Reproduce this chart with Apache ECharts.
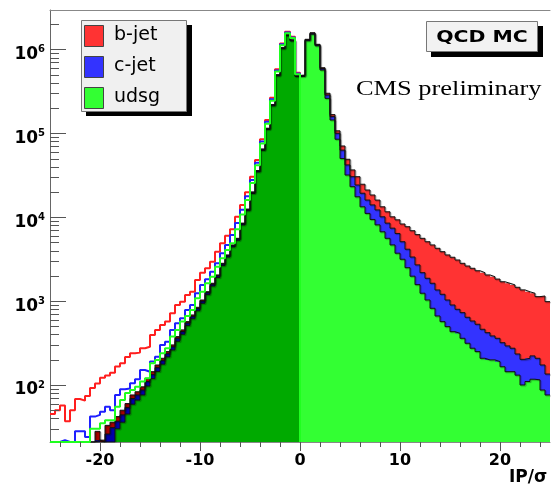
<!DOCTYPE html>
<html>
<head>
<meta charset="utf-8">
<script src="https://cdn.jsdelivr.net/npm/echarts/dist/echarts.min.js"></script>
<style>
  html, body { margin: 0; padding: 0; background: #ffffff; }
  #chart { width: 551px; height: 485px; }
</style>
</head>
<body>
<div id="chart"></div>
<script>
// IP significance, 100 bins of width 0.5 between -25 and 25.
const binWidth = 0.5;
const xMin = -25, xMax = 25;
const yMin = 20.9, yMax = 2.95e6;

// Stacked components on the positive side (bins starting at 0, 0.5, ..., 24.5)
const udsgPos = [477000, 1270000, 1520000, 1105000, 568000, 261000, 144000, 85000, 50000, 31800,
  23100, 17500, 13300, 11100, 9400, 8100, 6700, 5600, 4670, 3720,
  3150, 2500, 1980, 1570, 1240, 1030, 820, 664, 569, 496,
  432, 413, 360, 314, 274, 250, 208, 199, 199, 190,
  165, 144, 144, 131, 100, 110, 117, 115, 87, 76];
const cjetPos = [12000, 34000, 40000, 30000, 22000, 25000, 14000, 15000, 13000, 10200,
  7300, 6700, 6000, 4900, 4600, 4100, 3400, 2900, 2730, 2680,
  1950, 1650, 1370, 1130, 940, 840, 810, 692, 636, 534,
  466, 385, 368, 327, 305, 279, 253, 221, 185, 170,
  154, 148, 130, 103, 102, 98, 105, 93, 86, 59];
const bjetPos = [6000, 16000, 20000, 15000, 15000, 14000, 9000, 7000, 7600, 7000,
  6200, 6200, 5400, 5100, 4400, 3800, 3200, 3100, 2700, 2900,
  3200, 3550, 3550, 3500, 3420, 3230, 3040, 2904, 2675, 2520,
  2432, 2292, 2092, 1979, 1881, 1771, 1719, 1630, 1566, 1470,
  1381, 1338, 1286, 1226, 1158, 1082, 1018, 922, 977, 850];

// Stacked components on the negative side (bins starting at -25, -24.5, ..., -0.5)
const udsgNeg = [0, 0, 0, 0, 0, 0, 0, 0, 0, 10,
  10, 14, 19, 30, 36, 45, 59, 66, 76, 97,
  119, 145, 177, 216, 261, 332, 402, 510, 615, 766,
  942, 1193, 1510, 1909, 2646, 3345, 4417, 5310, 8090, 11940,
  19170, 34620, 62650, 111100, 213000, 485500, 1021000, 1459000, 1263000, 475000];
const cjetNeg = [0, 0, 0, 0, 0, 0, 0, 0, 0, 12,
  7, 12, 12, 7, 8, 9, 10, 10, 11, 13,
  14, 16, 18, 20, 24, 28, 32, 38, 44, 50,
  58, 68, 80, 95, 118, 140, 175, 200, 290, 400,
  600, 1000, 1700, 2800, 5000, 10500, 21000, 30000, 27000, 11000];
const bjetNeg = [0, 0, 0, 0, 0, 0, 0, 0, 0, 6,
  5, 7, 5, 5, 6, 6, 7, 7, 8, 10,
  11, 12, 13, 14, 15, 17, 19, 21, 24, 27,
  30, 34, 40, 46, 56, 65, 78, 90, 120, 160,
  230, 380, 650, 1100, 2000, 4000, 8000, 11000, 10000, 4000];

// Outline histograms on the negative side (bins starting at -25 ... -0.5)
const bjetLine = [45, 50, 57, 37, 50, 68, 65, 74, 92, 104,
  122, 130, 140, 166, 181, 216, 239, 243, 274, 286,
  395, 453, 519, 569, 716, 898, 984, 1180, 1295, 1780,
  2180, 2460, 2950, 3880, 4890, 6000, 7200, 10100, 14000, 19800,
  30400, 48000, 85000, 144000, 265000, 580000, 1180000, 1620000, 1420000, 527000];
const cjetLine = [0, 0, 22, 0, 0, 28, 28, 24, 42, 44,
  48, 55, 50, 76, 89, 91, 105, 117, 151, 144,
  190, 217, 300, 328, 453, 543, 624, 783, 898, 1240,
  1556, 1820, 2240, 2820, 3720, 4670, 6140, 8500, 12300, 17800,
  27800, 44500, 80000, 137000, 255000, 562000, 1150000, 1590000, 1390000, 515000];
const udsgLine = [0, 0, 0, 0, 0, 0, 0, 0, 30, 30,
  35, 38, 38, 55, 66, 80, 87, 95, 110, 120,
  181, 199, 239, 274, 377, 453, 569, 664, 783, 1080,
  1295, 1630, 1950, 2570, 3240, 4070, 4890, 7200, 10800, 16000,
  25500, 41500, 75500, 130000, 245000, 545000, 1120000, 1560000, 1365000, 505000];

// Axis decoration
const xMajorTicks = [-20, -10, 0, 10, 20];
const xMinorTicks = [-24, -22, -18, -16, -14, -12, -8, -6, -4, -2, 2, 4, 6, 8, 12, 14, 16, 18, 22, 24];
const legendNames = ['b-jet', 'c-jet', 'udsg'];

const brightColors = { b: '#ff3333', c: '#3333ff', u: '#33ff33' };
const darkColors = { b: '#aa0000', c: '#0000aa', u: '#00aa00' };
const lineColors = { b: '#ff1f1f', c: '#1f1fff', u: '#1fff1f' };

// Full-range arrays
const udsg = udsgNeg.concat(udsgPos);
const cjet = cjetNeg.concat(cjetPos);
const bjet = bjetNeg.concat(bjetPos);
const edges = udsg.map((_, i) => xMin + i * binWidth);
const cumU = udsg;
const cumCU = udsg.map((u, i) => u + cjet[i]);
const cumT = cumCU.map((cu, i) => cu + bjet[i]);

function stepData(lows, vals, endPoint) {
  const d = lows.map((x, i) => [x, Math.max(vals[i], yMin)]);
  d.push(endPoint);
  return d;
}
const negEdges = edges.slice(0, 50);

const outlineStyle = {
  color: '#111', width: 1,
  shadowColor: 'rgba(0,0,0,0.35)', shadowBlur: 1, shadowOffsetX: 1, shadowOffsetY: 1
};

function outlineSeries(vals) {
  return {
    type: 'line', step: 'end', symbol: 'none', silent: true, z: 3,
    data: stepData(edges, vals, [xMax, Math.max(vals[vals.length - 1], yMin)]),
    lineStyle: outlineStyle
  };
}
function negLineSeries(vals, color, z) {
  return {
    type: 'line', step: 'end', symbol: 'none', silent: true, z: z,
    data: stepData(negEdges, vals, [0, yMin]),
    lineStyle: { color: color, width: 2 }
  };
}

const yTickData = [];
for (let e = 1; e <= 6; e++) {
  for (let m = 1; m <= 9; m++) {
    const v = m * Math.pow(10, e);
    if (v > yMin && v < yMax) yTickData.push([m === 1 ? 2 : 1, v]);
  }
}
const xTickData = xMajorTicks.map(v => [v, 2]).concat(xMinorTicks.map(v => [v, 1]));

const sans = 'DejaVu Sans';

const option = {
  animation: false,
  backgroundColor: '#ffffff',
  grid: { left: 50, right: 1, top: 10, bottom: 43, containLabel: false, outerBoundsMode: 'none' },
  xAxis: [{
    type: 'value', min: xMin, max: xMax, interval: 5,
    axisLine: { show: true, onZero: false, lineStyle: { color: '#888', width: 1 } },
    axisTick: { show: false },
    splitLine: { show: false },
    axisLabel: {
      margin: 11,
      formatter: v => (v % 10 === 0 ? String(v) : ''),
      fontFamily: sans, fontWeight: 'bold', fontSize: 16, color: '#000'
    }
  }, {
    type: 'value', position: 'top', min: xMin, max: xMax,
    axisLine: { show: true, onZero: false, lineStyle: { color: '#888', width: 1 } },
    axisTick: { show: false }, axisLabel: { show: false }, splitLine: { show: false }
  }],
  yAxis: {
    type: 'log', logBase: 10, min: yMin, max: yMax, position: 'left',
    axisLine: { show: true, onZero: false, lineStyle: { color: '#666', width: 1 } },
    axisTick: { show: false },
    splitLine: { show: false },
    axisLabel: {
      margin: 5,
      padding: [10, 0, 0, 0],
      formatter: v => {
        const e = Math.log10(v), r = Math.round(e);
        return Math.abs(e - r) < 1e-6 ? '{b|10}{s|' + r + '}' : '';
      },
      rich: {
        b: { fontFamily: sans, fontWeight: 'bold', fontSize: 17, color: '#000', lineHeight: 20 },
        s: { fontFamily: sans, fontWeight: 'bold', fontSize: 10, color: '#000', verticalAlign: 'top', lineHeight: 20 }
      }
    }
  },
  series: [
    {
      // stacked fills: b on top of c on top of udsg, darker shades for negative IP
      type: 'custom', coordinateSystem: 'cartesian2d', z: 2, silent: true,
      data: edges.map(x => [x + binWidth / 2, 100]),
      encode: { x: 0, y: 1 },
      renderItem: (params, api) => {
        const i = params.dataIndex;
        const lo = edges[i], hi = lo + binWidth;
        const cols = lo < 0 ? darkColors : brightColors;
        const layers = [[cumT[i], cols.b], [cumCU[i], cols.c], [cumU[i], cols.u]];
        const kids = [];
        layers.forEach(([v, col]) => {
          if (v <= yMin) return;
          const a = api.coord([lo, v]);
          const b = api.coord([hi, yMin]);
          kids.push({
            type: 'rect',
            shape: { x: a[0], y: a[1], width: b[0] - a[0], height: b[1] - a[1] },
            style: { fill: col }
          });
        });
        return { type: 'group', children: kids };
      }
    },
    outlineSeries(cumU),
    outlineSeries(cumCU),
    outlineSeries(cumT),
    negLineSeries(bjetLine, lineColors.b, 4),
    negLineSeries(cjetLine, lineColors.c, 5),
    negLineSeries(udsgLine, lineColors.u, 6),
    {
      // y axis ticks, major at decades, minor at 2..9
      type: 'custom', coordinateSystem: 'cartesian2d', z: 8, silent: true,
      data: yTickData, encode: { x: 0, y: 1 },
      renderItem: (params, api) => {
        const kind = api.value(0), v = api.value(1);
        const p = api.coord([xMin, v]);
        const y = Math.round(p[1]) + 0.5;
        const len = kind === 2 ? 16 : 9;
        return { type: 'line', shape: { x1: p[0], y1: y, x2: p[0] + len, y2: y },
          style: { stroke: '#555', lineWidth: 1 } };
      }
    },
    {
      // x axis ticks hanging below the frame
      type: 'custom', coordinateSystem: 'cartesian2d', z: 8, silent: true,
      data: xTickData, encode: { x: 0, y: 1 },
      renderItem: (params, api) => {
        const v = api.value(0), kind = api.value(1);
        const p = api.coord([v, yMin]);
        const x = Math.round(p[0]) + 0.5;
        const len = kind === 2 ? 9 : 5;
        return { type: 'line', shape: { x1: x, y1: p[1], x2: x, y2: p[1] + len },
          style: { stroke: '#555', lineWidth: 1 } };
      }
    }
  ],
  graphic: [
    // legend box with drop shadow
    { type: 'rect', z: 20, shape: { x: 86, y: 25, width: 106, height: 91 }, style: { fill: '#000' } },
    { type: 'rect', z: 21, shape: { x: 81.5, y: 20.5, width: 105, height: 91 }, style: { fill: '#f0f0f0', stroke: '#777', lineWidth: 1 } },
    { type: 'rect', z: 22, shape: { x: 84.5, y: 25.5, width: 19, height: 21 }, style: { fill: brightColors.b, stroke: '#444', lineWidth: 1 } },
    { type: 'rect', z: 22, shape: { x: 84.5, y: 56.5, width: 19, height: 21 }, style: { fill: brightColors.c, stroke: '#444', lineWidth: 1 } },
    { type: 'rect', z: 22, shape: { x: 84.5, y: 87.5, width: 19, height: 21 }, style: { fill: brightColors.u, stroke: '#444', lineWidth: 1 } },
    { type: 'text', z: 22, x: 114, y: 35, style: { text: legendNames[0], font: '19px "DejaVu Sans"', fill: '#000', align: 'left', verticalAlign: 'middle', textAlign: 'left', textVerticalAlign: 'middle' } },
    { type: 'text', z: 22, x: 114, y: 66, style: { text: legendNames[1], font: '19px "DejaVu Sans"', fill: '#000', align: 'left', verticalAlign: 'middle', textAlign: 'left', textVerticalAlign: 'middle' } },
    { type: 'text', z: 22, x: 114, y: 97, style: { text: legendNames[2], font: '19px "DejaVu Sans"', fill: '#000', align: 'left', verticalAlign: 'middle', textAlign: 'left', textVerticalAlign: 'middle' } },
    // sample label
    { type: 'rect', z: 20, shape: { x: 431, y: 26, width: 112, height: 31 }, style: { fill: '#000' } },
    { type: 'rect', z: 21, shape: { x: 426.5, y: 21.5, width: 111, height: 30 }, style: { fill: '#f2f2f2', stroke: '#777', lineWidth: 1 } },
    { type: 'text', z: 22, x: 482, y: 38, scaleX: 1.36, style: { text: 'QCD MC', font: 'bold 15px "DejaVu Sans"', fill: '#000', align: 'center', verticalAlign: 'middle', textAlign: 'center', textVerticalAlign: 'middle' } },
    { type: 'text', z: 22, x: 356, y: 90, scaleX: 1.32, style: { text: 'CMS preliminary', font: '20px "Liberation Serif"', fill: '#000', align: 'left', verticalAlign: 'middle', textAlign: 'left', textVerticalAlign: 'middle' } },
    // axis title
    { type: 'text', z: 22, x: 509, y: 478, style: { text: 'IP/σ', font: 'bold 17px "DejaVu Sans"', fill: '#000', align: 'left', verticalAlign: 'middle', textAlign: 'left', textVerticalAlign: 'middle' } }
  ]
};

const chart = echarts.init(document.getElementById('chart'), null, { renderer: 'canvas' });
chart.setOption(option);
</script>
</body>
</html>
